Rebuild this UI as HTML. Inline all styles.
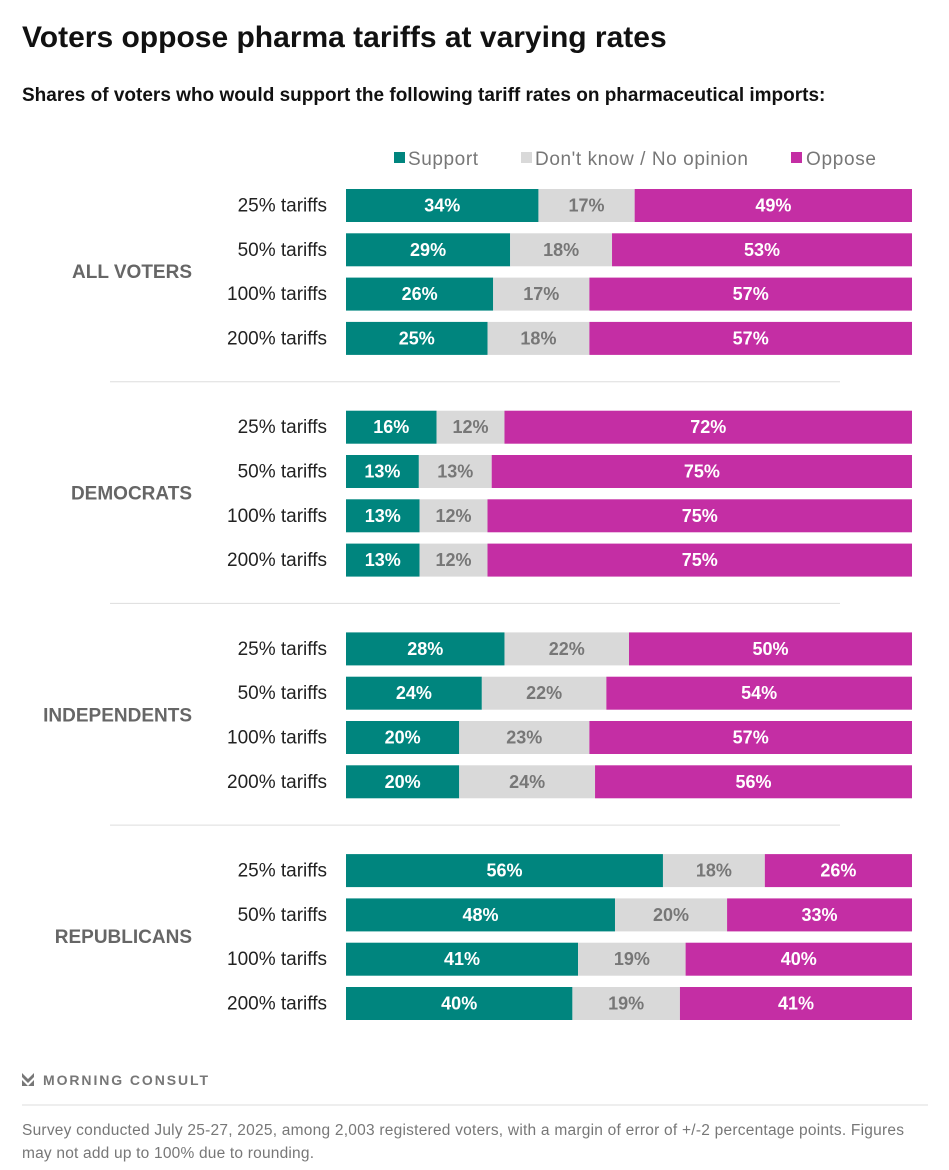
<!DOCTYPE html>
<html><head><meta charset="utf-8">
<style>
body{margin:0;background:#fff;width:949px;height:1165px;overflow:hidden;font-family:"Liberation Sans",sans-serif;}
</style></head>
<body>
<svg id="chart" width="949" height="1165" xmlns="http://www.w3.org/2000/svg" font-family="Liberation Sans, sans-serif">
<text x="22" y="47" font-size="30" font-weight="bold" fill="#111">Voters oppose pharma tariffs at varying rates</text>
<text x="22" y="101" font-size="19" font-weight="bold" fill="#111">Shares of voters who would support the following tariff rates on pharmaceutical imports:</text>
<g font-size="19" fill="#777">
<rect x="394" y="152" width="11" height="11" fill="#00857e"/>
<text x="408" y="165" textLength="70">Support</text>
<rect x="521" y="152" width="11" height="11" fill="#d9d9d9"/>
<text x="535" y="165" textLength="213">Don't know / No opinion</text>
<rect x="791" y="152" width="11" height="11" fill="#c42ea4"/>
<text x="806" y="165" textLength="70">Oppose</text>
</g>
<g id="bars"></g>
<g>
<path d="M22 1073 L28 1079 L34 1073 L34 1077 L28 1083 L22 1077 Z M22 1080 L28 1086 L34 1080 L34 1086 L22 1086 Z" fill="#777"/>
<text x="43" y="1085" font-size="14" font-weight="bold" fill="#777" textLength="165">MORNING CONSULT</text>
</g>
<line x1="22" y1="1105" x2="928" y2="1105" stroke="#ddd"/>
<text x="22" y="1135" font-size="15.5" fill="#777" textLength="882">Survey conducted July 25-27, 2025, among 2,003 registered voters, with a margin of error of +/-2 percentage points. Figures</text>
<text x="22" y="1158" font-size="15.5" fill="#777" textLength="292">may not add up to 100% due to rounding.</text>
</svg>
<script>
const groups=["ALL VOTERS","DEMOCRATS","INDEPENDENTS","REPUBLICANS"];
const rates=["25% tariffs","50% tariffs","100% tariffs","200% tariffs"];
const support=[[34,29,26,25],[16,13,13,13],[28,24,20,20],[56,48,41,40]];
const dontKnow=[[17,18,17,18],[12,13,12,12],[22,22,23,24],[18,20,19,19]];
const oppose=[[49,53,57,57],[72,75,75,75],[50,54,57,56],[26,33,40,41]];
const NS="http://www.w3.org/2000/svg";
const g=document.getElementById('bars');
const X0=346,W=566,BH=33,ROW=44.3,GSTEP=221.7,Y0=189;
function el(t,a){const e=document.createElementNS(NS,t);for(const k in a)e.setAttribute(k,a[k]);g.appendChild(e);return e;}
const colors=["#00857e","#d9d9d9","#c42ea4"],tcol=["#fff","#777","#fff"];
const segNames=["support","dontknow","oppose"];
groups.forEach((gn,gi)=>{
  const gy=Y0+gi*GSTEP;
  const gl=el('text',{x:192,y:gy+ROW*1.5+BH/2+6,'font-size':19,'font-weight':'bold',fill:'#666','text-anchor':'end'});
  gl.textContent=gn;
  
  
  if(gi>0){const ln=el('line',{x1:110,x2:840,y1:gy-29,y2:gy-29,stroke:'#ddd'});
    
    }
  rates.forEach((r,ri)=>{
    const y=gy+ri*ROW;
    const rl=el('text',{x:327,y:y+BH/2+6,'font-size':19,fill:'#222','text-anchor':'end'});
    rl.textContent=r;
    
    
    const vals=[support[gi][ri],dontKnow[gi][ri],oppose[gi][ri]];
    const tot=vals.reduce((a,b)=>a+b,0);
    let x=X0;
    vals.forEach((v,si)=>{
      const w=v/tot*W;
      const b=el('rect',{x:x,y:y,width:w,height:BH,fill:colors[si]});
      
      
      const t=el('text',{x:x+w/2,y:y+BH/2+6,'font-size':18,'font-weight':'bold',fill:tcol[si],'text-anchor':'middle'});
      t.textContent=v+'%';
      
      
      x+=w;
    });
  });
});
</script>
</body></html>
